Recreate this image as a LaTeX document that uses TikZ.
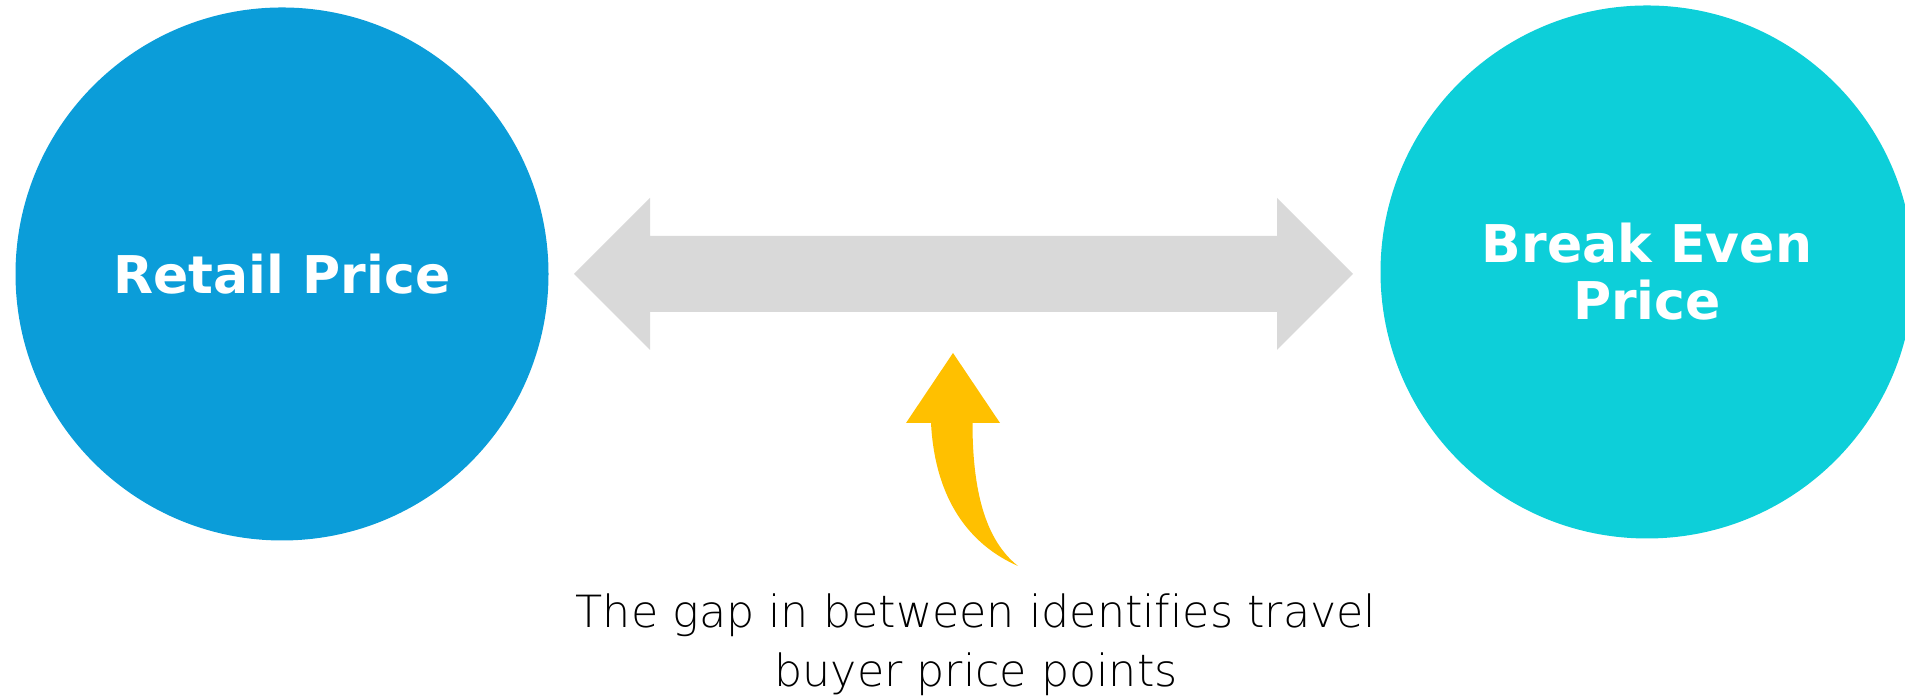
\documentclass[tikz,border=0pt]{standalone}
\usepackage{fontspec}
\setmainfont{DejaVu Sans}
\newfontfamily\gapfont[Ligatures=NoCommon]{DejaVu Sans ExtraLight}

\definecolor{retailblue}{HTML}{0B9DD9}
\definecolor{evencyan}{HTML}{0DCFD9}
\definecolor{gapgray}{HTML}{D9D9D9}
\definecolor{pointyellow}{HTML}{FFC000}

\begin{document}
\begin{tikzpicture}
            \useasboundingbox (0,0) rectangle (19.05,6.97);
            \tikzset{price/.style={circle, minimum size=5.33cm, inner sep=0pt, text=white, align=center,
                font=\fontsize{14.8}{16.2}\selectfont\bfseries}}

            \node[price, fill=retailblue] (R) at (2.82,4.23) {Retail Price};
            \node[price, fill=evencyan] (B) at (16.47,4.25) {Break Even\\Price};

            \coordinate (L) at (5.74,4.23);
            \coordinate (M) at (13.53,4.23);
            \fill[gapgray] (L)--(6.50,4.99)--(6.50,4.61)--(12.77,4.61)--(12.77,4.99)--(M)
                --(12.77,3.47)--(12.77,3.85)--(6.50,3.85)--(6.50,3.47)--cycle;

            \coordinate (T) at (9.53,3.44);
            \coordinate (E) at (10.18,1.31);
            \fill[pointyellow] (T)--(10.00,2.74)--(9.725,2.74)
                .. controls (9.725,2.07) and (9.85,1.57) .. (E)
                .. controls (9.70,1.52) and (9.35,1.97) .. (9.31,2.74)--(9.06,2.74)--cycle;

            \node[align=center, inner sep=0pt, font=\gapfont\fontsize{12.63}{16.8}\selectfont] (gap) at (9.76,0.52)
                {The gap in between identifies travel\\buyer price points};
        \end{tikzpicture}
\end{document}
